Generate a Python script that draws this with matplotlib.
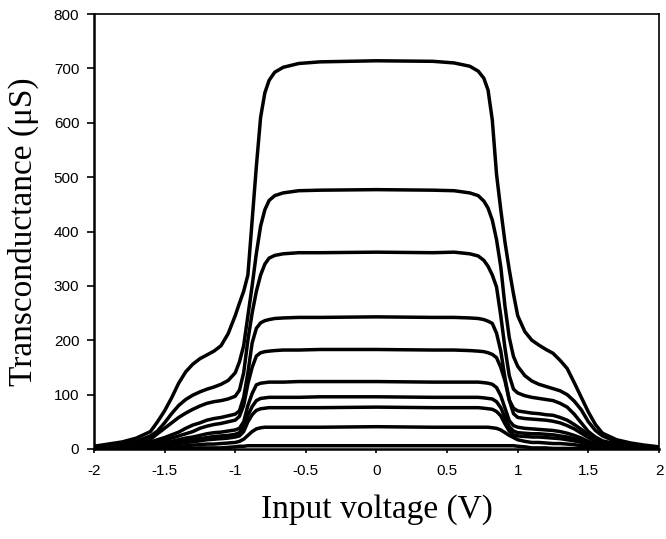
import matplotlib
matplotlib.use('Agg')
import matplotlib.pyplot as plt
from matplotlib.ticker import FuncFormatter

# input voltage grid (V)
volts = [-2.0, -1.9, -1.8, -1.7, -1.6, -1.55, -1.5, -1.45, -1.4, -1.35, -1.3, -1.25, -1.2, -1.15,
         -1.1, -1.05, -1.0, -0.97, -0.94, -0.91, -0.88, -0.85, -0.82, -0.79, -0.76, -0.72,
         -0.66, -0.55, -0.4,
         0.0,
         0.4, 0.55, 0.66, 0.72, 0.76, 0.79, 0.82, 0.85, 0.88, 0.91, 0.94, 0.97, 1.0, 1.05,
         1.1, 1.15, 1.2, 1.25, 1.3, 1.35, 1.4, 1.45, 1.5, 1.55, 1.6, 1.7, 1.8, 1.9, 2.0]

# transconductance curves (uS), highest plateau first
gm_a = [5, 9, 13, 20, 32, 50, 70, 94, 121, 142, 156, 166, 173, 180, 190, 212, 245, 268, 290, 320,
        420, 520, 610, 655, 678, 693, 702, 709, 712,
        714,
        713, 710, 704, 695, 682, 660, 605, 505, 440, 380, 330, 285, 245, 216, 200, 191, 183, 176,
        163, 148, 122, 95, 68, 45, 29, 17, 11, 7, 4]
gm_b = [4, 6, 9, 14, 24, 33, 48, 65, 80, 91, 99, 105, 110, 114, 119, 126, 140, 160, 190, 245,
        300, 360, 410, 440, 457, 466, 471, 475, 476,
        477,
        476, 475, 471, 466, 456, 443, 421, 385, 335, 262, 205, 170, 152, 135, 125, 119, 115, 111,
        107, 100, 88, 72, 50, 34, 24, 13, 8, 5, 3]
gm_c = [3, 5, 7, 11, 18, 28, 38, 48, 58, 66, 73, 79, 84, 87, 89, 92, 97, 108, 140, 200,
        250, 290, 320, 340, 351, 356, 359, 361, 361,
        362,
        361, 362, 359, 355, 347, 336, 320, 298, 245, 185, 135, 110, 103, 98, 95, 93, 91, 89,
        84, 77, 64, 48, 32, 22, 15, 9, 6, 4, 2]
gm_d = [2, 3, 5, 8, 13, 17, 21, 26, 31, 38, 44, 48, 53, 56, 58, 61, 64, 70, 95, 140,
        195, 222, 232, 236, 238, 240, 241, 242, 242,
        243,
        242, 242, 241, 240, 238, 235, 231, 213, 180, 130, 90, 75, 70, 68, 66, 65, 63, 62,
        58, 53, 45, 36, 26, 18, 12, 7, 4, 3, 2]
gm_e = [2, 3, 4, 6, 10, 13, 16, 20, 24, 28, 32, 38, 42, 45, 47, 50, 53, 60, 80, 120,
        150, 171, 177, 179, 180, 181, 182, 182, 183,
        183,
        182, 182, 181, 180, 179, 177, 174, 168, 150, 125, 90, 65, 58, 56, 55, 54, 53, 51,
        48, 43, 37, 29, 21, 15, 10, 5, 3, 2, 1]
gm_f = [1, 2, 3, 4, 7, 9, 11, 14, 17, 20, 22, 25, 28, 30, 31, 33, 35, 38, 50, 80,
        102, 118, 121, 122, 123, 123, 123, 124, 124,
        124,
        123, 123, 123, 123, 122, 121, 119, 113, 98, 75, 52, 43, 40, 38, 37, 36, 35, 34,
        32, 29, 25, 20, 14, 10, 7, 4, 2, 1, 1]
gm_g = [1, 1, 2, 3, 5, 6, 8, 10, 13, 15, 17, 19, 21, 23, 24, 25, 27, 30, 40, 62,
        78, 89, 93, 94, 95, 95, 95, 95, 96,
        96,
        95, 95, 95, 95, 94, 93, 92, 87, 76, 58, 41, 33, 30, 29, 28, 28, 27, 26,
        24, 22, 19, 15, 11, 8, 5, 3, 2, 1, 1]
gm_h = [1, 1, 2, 2, 4, 5, 6, 8, 10, 12, 13, 15, 17, 18, 19, 20, 22, 24, 32, 50,
        63, 71, 74, 75, 76, 76, 76, 76, 76,
        77,
        76, 76, 76, 76, 75, 74, 73, 69, 61, 46, 33, 26, 24, 23, 22, 22, 21, 20,
        19, 17, 15, 12, 9, 6, 4, 2, 1, 1, 0]
gm_i = [0, 1, 1, 1, 2, 2, 3, 4, 5, 6, 7, 8, 9, 9, 10, 11, 12, 14, 18, 25,
        32, 37, 39, 40, 40, 40, 40, 40, 40,
        41,
        40, 40, 40, 40, 40, 40, 39, 38, 35, 30, 25, 21, 17, 14, 12, 12, 11, 10,
        10, 9, 8, 6, 5, 3, 2, 1, 1, 0, 0]
gm_j = [0, 0, 0, 0, 1, 1, 1, 1, 1, 1, 1, 2, 2, 2, 2, 3, 4, 5, 5, 6,
        6, 6, 6, 6, 6, 6, 6, 6, 6,
        6,
        6, 6, 6, 6, 6, 6, 6, 6, 6, 6, 6, 6, 5, 4, 2, 2, 2, 1,
        1, 1, 1, 1, 1, 0, 0, 0, 0, 0, 0]

curves = [gm_a, gm_b, gm_c, gm_d, gm_e, gm_f, gm_g, gm_h, gm_i, gm_j]

x_ticks = [-2, -1.5, -1, -0.5, 0, 0.5, 1, 1.5, 2]
y_ticks = [0, 100, 200, 300, 400, 500, 600, 700, 800]


def tick_fmt(v, pos):
  return f'{v:g}'


fig = plt.figure(figsize=(6.66, 5.39), dpi=100)
ax = fig.add_axes([0.141, 0.167, 0.8485, 0.807])

for gm in curves:
  ax.plot(volts, gm, color='black', linewidth=2.5, solid_joinstyle='round', solid_capstyle='round')

ax.set_xlim(-2, 2)
ax.set_ylim(0, 800)
ax.set_xticks(x_ticks)
ax.set_yticks(y_ticks)
ax.xaxis.set_major_formatter(FuncFormatter(tick_fmt))
ax.yaxis.set_major_formatter(FuncFormatter(tick_fmt))
ax.tick_params(axis='y', direction='out', length=5, width=1.2, pad=5.5, labelsize=11)
ax.tick_params(axis='x', direction='out', length=3, width=1.2, pad=8, labelsize=11)
for lab in ax.get_xticklabels() + ax.get_yticklabels():
  lab.set_fontfamily('Liberation Sans')

for side in ['left', 'bottom']:
  ax.spines[side].set_linewidth(1.8)
for side in ['top', 'right']:
  ax.spines[side].set_linewidth(1.2)

ax.set_xlabel('Input voltage (V)', fontfamily='Liberation Serif', fontsize=24)
ax.set_ylabel('Transconductance (\u03bcS)', fontfamily='Liberation Serif', fontsize=24)
ax.xaxis.set_label_coords(0.5, -0.105)
ax.yaxis.set_label_coords(-0.098, 0.5)

fig.savefig('out.png', dpi=100)
